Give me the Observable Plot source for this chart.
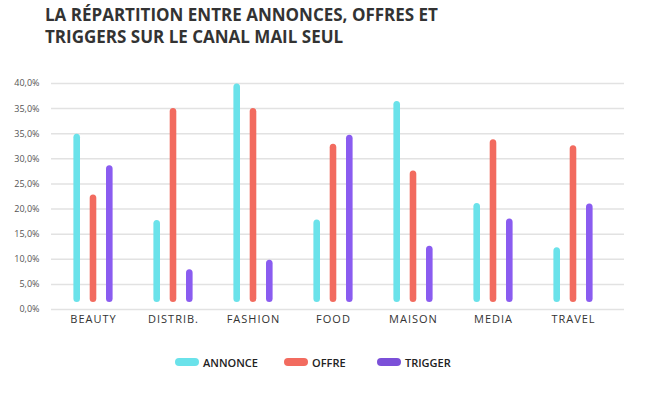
<!DOCTYPE html>
<html>
<head>
<meta charset="utf-8">
<script src="https://cdn.jsdelivr.net/npm/d3@7"></script>
<script src="https://cdn.jsdelivr.net/npm/@observablehq/plot@0.6"></script>
<style>
  html, body { margin: 0; padding: 0; background: #fff; }
  #wrap { position: relative; width: 647px; height: 393px; overflow: hidden; font-family: "Open Sans", sans-serif; }
  #title { position: absolute; left: 45px; top: 4px; font-family: "Open Sans", sans-serif; font-weight: 700; font-size: 17px; line-height: 22px; color: #333; white-space: nowrap; }
  #chart { position: absolute; left: 0; top: 60px; }
  #legend { position: absolute; top: 354px; left: 0; width: 647px; height: 16px; }
  .item { position: absolute; top: 0; display: flex; align-items: center; height: 16px; font-family: "Open Sans", sans-serif; font-weight: 600; font-size: 11px; color: #222; }
  .sw { width: 24px; height: 8px; border-radius: 4px; margin-right: 4px; }
</style>
</head>
<body>
<div id="wrap">
  <div id="title">LA RÉPARTITION ENTRE ANNONCES, OFFRES ET<br>TRIGGERS SUR LE CANAL MAIL SEUL</div>
  <div id="chart"></div>
  <div id="legend"></div>
</div>
<script>
const categories = ["BEAUTY", "DISTRIB.", "FASHION", "FOOD", "MAISON", "MEDIA", "TRAVEL"];
const series = ["ANNONCE", "OFFRE", "TRIGGER"];
const annonce = [34.9, 17.7, 44.9, 17.8, 41.4, 21.1, 12.3];
const offre   = [22.8, 40.0, 40.0, 32.9, 27.6, 33.8, 32.6];
const trigger = [28.6, 7.9, 9.8, 34.7, 12.6, 18.0, 21.0];
const yTickValues = [0, 5, 10, 15, 20, 25, 30, 35, 40, 45];
const yTickLabels = ["0,0%", "5,0%", "10,0%", "15,0%", "20,0%", "25,0%", "30,0%", "35,0%", "35,0%", "40,0%"];
const colors = ["#6ae2ea", "#f26b5f", "#8a5cf0"];
const legendColors = ["#6ae2ea", "#f26b5f", "#7b50d8"];

const valuesBySeries = [annonce, offre, trigger];
const data = [];
series.forEach((s, si) => categories.forEach((c, ci) => data.push({cat: c, series: s, value: valuesBySeries[si][ci]})));

const offsets = [-16.3, 0, 16.3];
const barW = 7;
const step = 80.4;

const bars = series.map((s, i) => Plot.barY(data.filter(d => d.series === s), {
  x: "cat", y: "value", fill: colors[i], dx: offsets[i],
  insetLeft: (step - barW) / 2, insetRight: (step - barW) / 2, insetBottom: 7, rx: 3.5
}));

const chart = Plot.plot({
  width: 647,
  height: 275,
  marginLeft: 51,
  marginRight: 23,
  marginTop: 23,
  marginBottom: 26,
  style: { fontFamily: "Open Sans, sans-serif", background: "transparent", color: "#444" },
  x: { type: "band", domain: categories, range: [51.3, 614.1], padding: 0, label: null, tickSize: 0, tickPadding: 6 },
  y: { domain: [0, 45], ticks: yTickValues, tickFormat: d => yTickLabels[yTickValues.indexOf(d)], label: null, tickSize: 0, tickPadding: 12 },
  marks: [
    Plot.ruleY(yTickValues, { stroke: "#e2e2e2", strokeWidth: 1.5 }),
    ...bars
  ]
});
document.getElementById("chart").appendChild(chart);

// style axis text
d3.select(chart).selectAll("[aria-label='x-axis tick label'] text, [aria-label='x-axis'] text").attr("font-size", 11).attr("letter-spacing", "1px").attr("fill", "#333");
d3.select(chart).selectAll("[aria-label='y-axis tick label'] text, [aria-label='y-axis'] text").attr("font-size", 9).attr("fill", "#555");

const legendX = [175, 284, 377];
const legend = document.getElementById("legend");
series.forEach((s, i) => {
  const it = document.createElement("div");
  it.className = "item";
  it.style.left = legendX[i] + "px";
  it.innerHTML = `<div class="sw" style="background:${legendColors[i]}"></div><span>${s}</span>`;
  legend.appendChild(it);
});
</script>
</body>
</html>
